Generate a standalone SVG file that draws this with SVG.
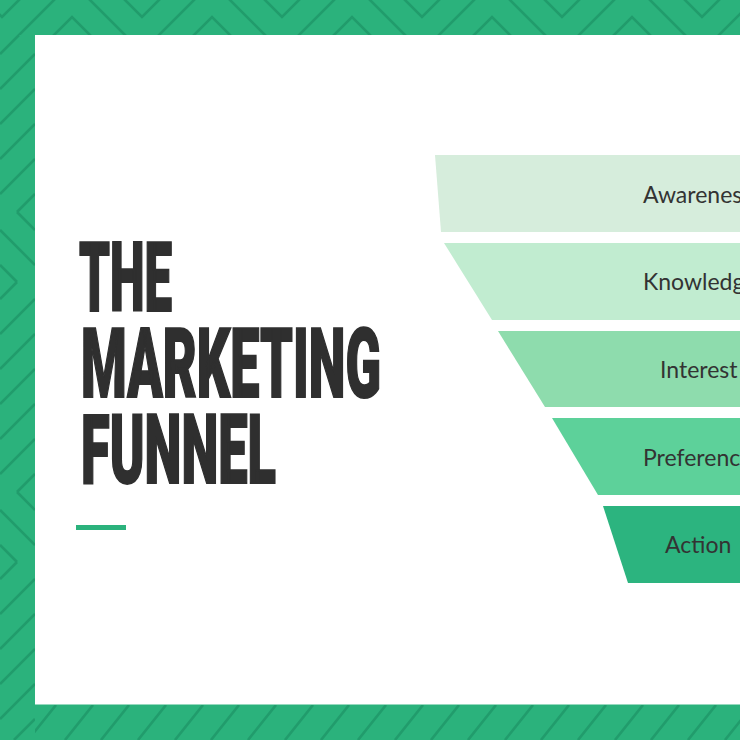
<svg xmlns="http://www.w3.org/2000/svg" width="740" height="740" viewBox="0 0 740 740">
  <defs>
    <style>
      .pat { fill: none; stroke: #1f9467; stroke-width: 2.6; stroke-opacity: 0.75; stroke-linecap: butt; }
      .title { font-family: Roboto, "Liberation Sans", sans-serif; font-weight: 900; font-size: 97px; fill: #2f2f2f; stroke: #2f2f2f; stroke-width: 2; stroke-linejoin: miter; }
      .label { font-family: Lato, "Noto Sans", sans-serif; font-size: 23px; fill: #333333; }
    </style>
    <clipPath id="clipTop"><rect x="0" y="0" width="740" height="35"/></clipPath>
    <clipPath id="clipLeft"><rect x="0" y="35" width="35" height="705"/></clipPath>
    <clipPath id="clipBottom"><rect x="35" y="705" width="705" height="35"/></clipPath>
  </defs>

  <!-- green frame background -->
  <g id="frame">
    <rect x="0" y="0" width="740" height="740" fill="#2bb27c"/>
    <g clip-path="url(#clipTop)" class="pat">
      <polyline points="-138,17 -68,-53 2,17 72,-53 142,17 212,-53 282,17 352,-53 422,17 492,-53 562,17 632,-53 702,17 772,-53 842,17"/>
      <polyline points="-138,52 -68,-18 2,52 72,-18 142,52 212,-18 282,52 352,-18 422,52 492,-18 562,52 632,-18 702,52 772,-18 842,52"/>
      <polyline points="-138,87 -68,17 2,87 72,17 142,87 212,17 282,87 352,17 422,87 492,17 562,87 632,17 702,87 772,17 842,87"/>
    </g>
    <g clip-path="url(#clipLeft)" class="pat">
      <path d="M0,54 L19,35 M0,89 L35,54 M0,124 L35,89 M0,159 L35,124 M0,194 L35,159 M17,212 L35,194
               M17,212 L35,230 M0,230 L35,265 M0,265 L17,282
               M0,299 L17,282 M0,334 L35,299 M0,369 L35,334 M0,404 L35,369 M0,439 L35,404 M0,474 L35,439 M17,492 L35,474
               M17,492 L35,510 M0,510 L35,545 M0,545 L17,562
               M0,579 L17,562 M0,614 L35,579 M0,649 L35,614 M0,684 L35,649 M0,719 L35,684 M14,740 L35,719"/>
    </g>
    <g clip-path="url(#clipBottom)" class="pat">
      <path d="M28,740 L56,705 M65,740 L93,705 M101,740 L129,705 M138,740 L166,705 M175,740 L203,705 M211,740 L239,705 M248,740 L276,705 M285,740 L313,705 M321,740 L349,705 M358,740 L386,705 M395,740 L423,705 M431,740 L459,705 M468,740 L496,705 M505,740 L533,705 M541,740 L569,705 M578,740 L606,705 M615,740 L643,705 M651,740 L679,705 M688,740 L716,705 M725,740 L753,705"/>
    </g>
  </g>

  <!-- white panel -->
  <rect id="panel" x="35" y="35" width="705" height="669.5" fill="#ffffff"/>

  <!-- title -->
  <g id="title">
    <text class="title" x="79" y="311" textLength="93" lengthAdjust="spacingAndGlyphs">THE</text>
    <text class="title" x="81" y="397" textLength="300" lengthAdjust="spacingAndGlyphs">MARKETING</text>
    <text class="title" x="81" y="483" textLength="195" lengthAdjust="spacingAndGlyphs">FUNNEL</text>
    <rect x="76" y="525" width="50" height="5" fill="#2bb27c"/>
  </g>

  <!-- funnel -->
  <g id="awareness">
    <polygon points="435,155 740,155 740,232 441,232" fill="#d6eddc"/>
    <text class="label" x="643" y="203">Awareness</text>
  </g>
  <g id="knowledge">
    <polygon points="444,243 740,243 740,320 492,320" fill="#c1ecd0"/>
    <text class="label" x="643" y="290">Knowledge</text>
  </g>
  <g id="interest">
    <polygon points="498,331 740,331 740,407 545,407" fill="#8edcad"/>
    <text class="label" x="660" y="378">Interest</text>
  </g>
  <g id="preference">
    <polygon points="552,418 740,418 740,495 598,495" fill="#5dd19a"/>
    <text class="label" x="643" y="466">Preference</text>
  </g>
  <g id="action">
    <polygon points="603,506 740,506 740,583 628,583" fill="#2cb47f"/>
    <text class="label" x="665" y="553">Action</text>
  </g>
</svg>
